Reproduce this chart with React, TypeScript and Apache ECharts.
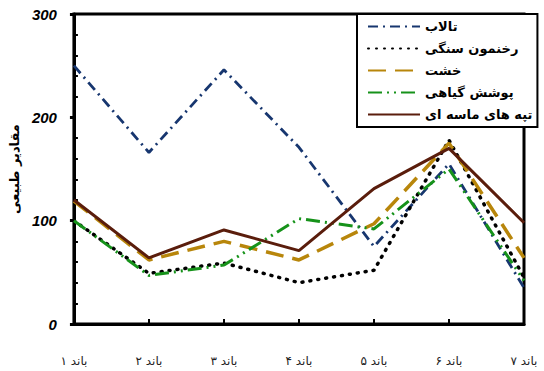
import React, { useEffect, useRef } from "react";
import * as echarts from "echarts";

const bands = ["باند ۱", "باند ۲", "باند ۳", "باند ۴", "باند ۵", "باند ۶", "باند ۷"];

const wetland = [250, 166, 246, 171, 75, 155, 35];
const rockOutcrop = [100, 49, 59, 40, 52, 178, 45];
const mudBrick = [119, 62, 80, 62, 97, 175, 64];
const vegetation = [100, 47, 57, 102, 92, 150, 42];
const sandDunes = [120, 64, 91, 71, 131, 170, 98];

const seriesNames = ["تالاب", "رخنمون سنگی", "خشت", "پوشش گیاهی", "تپه های ماسه ای"];

const yTicks = [0, 100, 200, 300];

const persianFont = "DejaVu Sans";

export default function App() {
  const ref = useRef<HTMLDivElement>(null);

  useEffect(() => {
    if (!ref.current) return;
    const chart = echarts.init(ref.current, undefined, { renderer: "svg" });

    const mk = (
      name: string,
      data: number[],
      color: string,
      width: number,
      type: any,
      cap: "butt" | "round" = "butt"
    ) => ({
      name,
      type: "line",
      data,
      symbol: "none",
      yAxisIndex: 0,
      lineStyle: { color, width, type, cap },
      itemStyle: { color },
    });

    chart.setOption({
      animation: false,
      backgroundColor: "#ffffff",
      grid: {
        left: 71,
        right: 20,
        top: 14,
        bottom: 47,
        show: true,
        borderColor: "#000",
        borderWidth: 3,
        backgroundColor: "transparent",
      },
      legend: {
        orient: "vertical",
        left: 357,
        top: 14,
        padding: [6, 5, 6, 10],
        itemGap: 9,
        itemWidth: 52,
        itemHeight: 14,
        backgroundColor: "#fff",
        borderColor: "#000",
        borderWidth: 2,
        borderRadius: 0,
        data: seriesNames,
        itemStyle: { opacity: 0 },
        textStyle: {
          fontFamily: persianFont,
          fontWeight: "bold",
          fontSize: 13,
          color: "#000",
        },
      },
      xAxis: {
        type: "category",
        data: bands,
        boundaryGap: false,
        axisLine: { lineStyle: { color: "#000", width: 3 } },
        axisTick: { inside: true, length: 5, lineStyle: { color: "#000", width: 2 } },
        axisLabel: {
          margin: 31,
          fontFamily: persianFont,
          fontSize: 12,
          color: "#222",
        },
        splitLine: { show: false },
      },
      yAxis: [
        {
          type: "value",
          min: 0,
          max: 300,
          interval: 100,
          name: "مقادیر طبیعی",
          nameLocation: "middle",
          nameGap: 39,
          nameRotate: 90,
          nameTextStyle: {
            fontFamily: persianFont,
            fontWeight: "bold",
            fontSize: 13,
            color: "#000",
          },
          axisLine: { show: true, lineStyle: { color: "#000", width: 3 } },
          axisTick: { show: true, inside: false, length: 4, lineStyle: { color: "#000", width: 3 } },
          axisLabel: {
            margin: 17,
            fontFamily: "Liberation Sans",
            fontStyle: "italic",
            fontWeight: "bold",
            fontSize: 15,
            color: "#000",
            formatter: (v: number) => (yTicks.includes(v) ? String(v) : ""),
          },
          splitLine: { show: false },
        },
        {
          // inner minor ticks every 20 units
          type: "value",
          position: "left",
          min: 0,
          max: 300,
          interval: 100,
          axisLine: { show: false },
          axisTick: { show: false, inside: true },
          axisLabel: { show: false },
          minorTick: { show: true, splitNumber: 5, length: 4, lineStyle: { color: "#000", width: 2 } },
          splitLine: { show: false },
          minorSplitLine: { show: false },
        },
      ],
      series: [
        mk(seriesNames[0], wetland, "#17366f", 2.8, [10, 5, 2, 5]),
        mk(seriesNames[1], rockOutcrop, "#000000", 3.5, [1, 7], "round"),
        mk(seriesNames[2], mudBrick, "#b8860b", 3.5, [18, 9]),
        mk(seriesNames[3], vegetation, "#16921a", 3, [14, 5, 2, 5, 2, 5]),
        mk(seriesNames[4], sandDunes, "#5a1d0c", 3, "solid"),
      ],
    });

    return () => chart.dispose();
  }, []);

  return (
    <div
      ref={ref}
      style={{ position: "fixed", left: 0, top: 0, width: 544, height: 371 }}
    />
  );
}
